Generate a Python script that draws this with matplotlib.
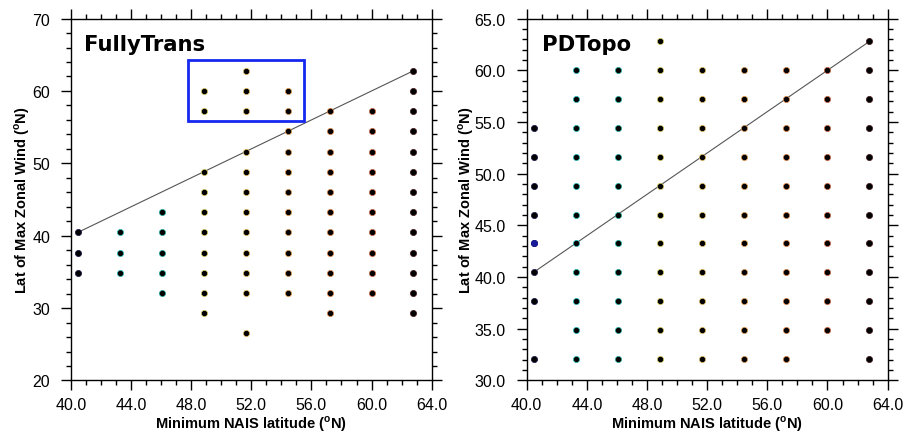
import numpy as np
import matplotlib
matplotlib.use('Agg')
from matplotlib import pyplot as plt
from matplotlib.patches import Rectangle
from matplotlib.ticker import MultipleLocator, FormatStrFormatter

# Gaussian grid latitudes (T42) used for both axes
LATS = [26.51, 29.30, 32.09, 34.88, 37.67, 40.46, 43.25, 46.04,
        48.84, 51.63, 54.42, 57.21, 60.00, 62.79]

x_cols = [40.46, 43.25, 46.04, 48.84, 51.63, 54.42, 57.21, 60.00, 62.79]

# FullyTrans: latitudes of max zonal wind found for each NAIS column
fully_cols = [
    [40.46, 37.67, 34.88],
    [40.46, 37.67, 34.88],
    [43.25, 40.46, 37.67, 34.88, 32.09],
    [60.00, 57.21, 48.84, 46.04, 43.25, 40.46, 37.67, 34.88, 32.09, 29.30],
    [62.79, 60.00, 57.21, 51.63, 48.84, 46.04, 43.25, 40.46, 37.67, 34.88, 32.09, 26.51],
    [60.00, 57.21, 54.42, 51.63, 48.84, 46.04, 43.25, 40.46, 37.67, 34.88, 32.09],
    [57.21, 54.42, 51.63, 48.84, 46.04, 43.25, 40.46, 37.67, 34.88, 32.09, 29.30],
    [57.21, 54.42, 51.63, 48.84, 46.04, 43.25, 40.46, 37.67, 34.88, 32.09],
    [62.79, 60.00, 57.21, 54.42, 51.63, 48.84, 46.04, 43.25, 40.46, 37.67, 34.88, 32.09, 29.30],
]

# PDTopo
pd_cols = [
    [54.42, 51.63, 48.84, 46.04, 43.25, 40.46, 37.67, 32.09],
    [60.00, 57.21, 54.42, 51.63, 48.84, 46.04, 43.25, 40.46, 37.67, 34.88, 32.09],
    [60.00, 57.21, 54.42, 51.63, 48.84, 46.04, 43.25, 40.46, 37.67, 34.88, 32.09],
    [62.79, 60.00, 57.21, 54.42, 51.63, 48.84, 46.04, 43.25, 40.46, 37.67, 34.88, 32.09],
    [60.00, 57.21, 54.42, 51.63, 48.84, 46.04, 43.25, 40.46, 37.67, 34.88, 32.09],
    [60.00, 57.21, 54.42, 51.63, 48.84, 46.04, 43.25, 40.46, 37.67, 34.88, 32.09],
    [60.00, 57.21, 54.42, 51.63, 48.84, 46.04, 43.25, 40.46, 37.67, 34.88, 32.09],
    [60.00, 57.21, 54.42, 51.63, 48.84, 46.04, 43.25, 40.46, 37.67, 34.88],
    [62.79, 60.00, 57.21, 54.42, 51.63, 48.84, 46.04, 43.25, 40.46, 37.67, 34.88, 32.09],
]

# one-to-one reference line and highlighted box (FullyTrans)
line_ends = [40.46, 62.79]
box_x = [47.8, 55.5]
box_y = [55.9, 64.3]

# rim colours of the dots by column
rim = ['#14144a', '#2cc4c4', '#26b4a4', '#d8cc60', '#e6c060',
       '#e8a050', '#e08848', '#d06840', '#401818']

plt.rcParams['font.family'] = ['Liberation Sans', 'DejaVu Sans']
plt.rcParams['mathtext.fontset'] = 'custom'
plt.rcParams['mathtext.rm'] = 'Liberation Sans:bold'
plt.rcParams['mathtext.bf'] = 'Liberation Sans:bold'

fig = plt.figure(figsize=(9.04, 4.35), dpi=100)
ax1 = fig.add_axes([0.0785, 0.123, 0.399, 0.832])
ax2 = fig.add_axes([0.5826, 0.123, 0.3993, 0.832])

xlab = r'Minimum NAIS latitude ($^\mathrm{o}$N)'
ylab = r'Lat of Max Zonal Wind ($^\mathrm{o}$N)'


def draw(ax, cols, title, tx, ylim, ymaj, ymin, yfmt, ylx):
    ax.plot(line_ends, line_ends, color='#555555', lw=0.8, zorder=1)
    for i, ys in enumerate(cols):
        xs = [x_cols[i]] * len(ys)
        ax.scatter(xs, ys, s=20, c='black', edgecolors=rim[i],
                   linewidths=0.5, zorder=3)
    ax.set_xlim(40, 64)
    ax.set_ylim(*ylim)
    ax.xaxis.set_major_locator(MultipleLocator(4))
    ax.xaxis.set_minor_locator(MultipleLocator(1))
    ax.xaxis.set_major_formatter(FormatStrFormatter('%.1f'))
    ax.yaxis.set_major_locator(MultipleLocator(ymaj))
    ax.yaxis.set_minor_locator(MultipleLocator(ymin))
    ax.yaxis.set_major_formatter(FormatStrFormatter(yfmt))
    ax.tick_params(which='both', direction='out', top=True, right=True,
                   width=1.0, labelsize=11.5)
    ax.tick_params(which='major', length=7, pad=5)
    ax.tick_params(which='minor', length=3.5)
    ax.tick_params(axis='y', which='major', pad=8)
    for sp in ax.spines.values():
        sp.set_linewidth(1.0)
    ax.set_xlabel(xlab, fontsize=10.5, fontweight='bold', labelpad=1)
    ax.set_ylabel(ylab, fontsize=10.5, fontweight='bold')
    ax.yaxis.set_label_coords(ylx, 0.5)
    ax.text(tx, 0.912, title, transform=ax.transAxes, fontsize=15.2,
            fontweight='bold', family='DejaVu Sans', va='baseline', ha='left')


draw(ax1, fully_cols, 'FullyTrans', 0.036, (20, 70), 10, 2, '%d', -0.107)
draw(ax2, pd_cols, 'PDTopo', 0.0416, (30, 65), 5, 1, '%.1f', -0.139)

ax1.add_patch(Rectangle((box_x[0], box_y[0]), box_x[1] - box_x[0],
                        box_y[1] - box_y[0], fill=False, edgecolor='#1428f0',
                        lw=2.0, zorder=2))

# odd blue dot in PDTopo
ax2.scatter([x_cols[0]], [43.25], s=20, c='#1a1a9a', edgecolors='#1a1a9a',
            linewidths=0.5, zorder=4)

fig.savefig('out.png', dpi=100)
